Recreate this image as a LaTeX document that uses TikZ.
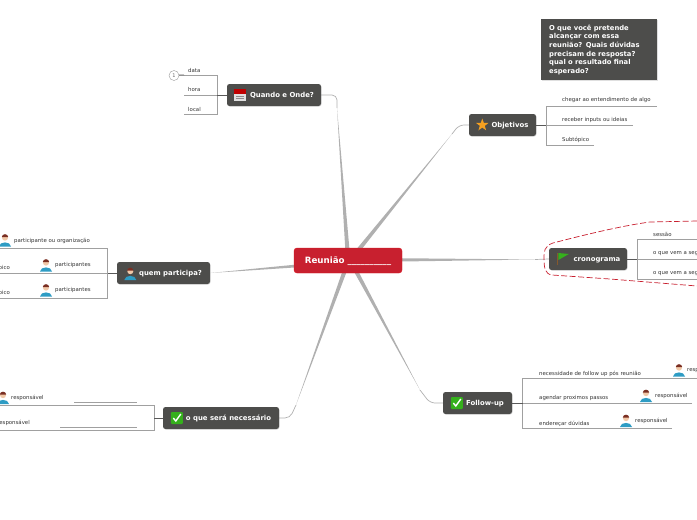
\documentclass[tikz,border=0pt]{standalone}
\usepackage{fontspec}
\setmainfont{DejaVu Sans}
\usetikzlibrary{calc,shadows,backgrounds}

\definecolor{topicgray}{HTML}{4D4D4B}
\definecolor{rootred}{HTML}{C8202F}
\definecolor{branchgray}{HTML}{B0B0B0}
\definecolor{railgray}{HTML}{A0A0A0}
\definecolor{skintone}{HTML}{F0C8A8}
\definecolor{hairbrown}{HTML}{7A2E22}
\definecolor{shirtblue}{HTML}{2E9CC4}
\definecolor{checkgreen}{HTML}{35B01C}
\definecolor{starorange}{HTML}{F5A020}

% tapered branch out of the root
\newcommand{\branchwedge}[2]{\fill[branchgray] ($(#1)!2.2pt!90:(#2)$) -- ($(#1)!2.2pt!-90:(#2)$) -- (#2) -- cycle;}

\tikzset{
	topic/.style={fill=topicgray, rounded corners=2.5pt, text=white, minimum height=22pt, inner sep=0pt, text height=5pt, text depth=0pt,
		font=\fontsize{6.9}{8}\selectfont\bfseries, drop shadow={opacity=.25,shadow xshift=.6pt,shadow yshift=-.6pt}},
	leaf/.style={anchor=west, inner sep=0pt, text=black!80, font=\fontsize{5.4}{6}\selectfont},
	rail/.style={railgray, line width=.8pt},
	stem/.style={black!65, line width=1pt},
	twig/.style={branchgray, line width=.7pt, rounded corners=5pt},
	personicon/.pic={
		\fill[shirtblue] (-6,7) .. controls (-5.5,1.5) and (5.5,1.5) .. (6,7) -- cycle;
		\fill[skintone] (0,-1.8) circle (3);
		\fill[hairbrown] (-3.2,-2.5) .. controls (-3,-6.2) and (3,-6.2) .. (3.2,-2.5) -- cycle;
	},
	checkicon/.pic={
		\fill[checkgreen, rounded corners=1pt] (-6,-6) rectangle (6,6);
		\draw[white, line width=1.4pt] (-3.5,0) -- (-1,3) -- (4,-4);
	},
	staricon/.pic={
		\fill[starorange] (90:-6.5) -- (126:-2.6) -- (162:-6.5) -- (198:-2.6) -- (234:-6.5)
			-- (270:-2.6) -- (306:-6.5) -- (342:-2.6) -- (18:-6.5) -- (54:-2.6) -- cycle;
	},
	flagicon/.pic={
		\draw[brown!70!black, line width=1pt] (-5,-6) -- (-5,6);
		\fill[checkgreen] (-4.5,-6) -- (6,-5) -- (-4.5,1) -- cycle;
	},
	calendaricon/.pic={
		\fill[black!12] (-6,-5) rectangle (6,6);
		\fill[red!75!black] (-6,-6) rectangle (6,-1.5);
		\draw[black!45, line width=.4pt] (-4,1) -- (4,1) (-4,3) -- (4,3);
	}
}

\begin{document}
\begin{tikzpicture}[x=1pt,y=-1pt]
	\useasboundingbox (0,0) rectangle (697,520);
	
	% --------------------------
	% Root and main topics
	% --------------------------
	\node[fill=rootred, draw=red!35!rootred, rounded corners=3pt, text=white, minimum width=108pt, minimum height=25pt, inner sep=0pt, text height=6pt, text depth=0pt,
		font=\fontsize{8.7}{10}\selectfont\bfseries] (root) at (348,260.5) {Reunião \_\_\_\_\_\_\_\_\_\_};
	
	\node[topic, minimum width=94pt] (quando) at (274,95) {\hspace*{16pt}Quando e Onde?};
	\node[topic, minimum width=67pt] (objetivos) at (502.5,125) {\hspace*{15pt}Objetivos};
	\node[topic, minimum width=78pt] (cronograma) at (588,259) {\hspace*{18pt}cronograma};
	\node[topic, minimum width=69pt] (followup) at (477.5,403) {\hspace*{15pt}Follow-up};
	\node[topic, minimum width=116pt] (necessario) at (221,418) {\hspace*{15pt}o que será necessário};
	\node[topic, minimum width=93pt] (participa) at (163.5,273) {\hspace*{14pt}quem participa?};
	
	\pic at ([xshift=13.5pt]quando.west) {calendaricon};
	\pic at ([xshift=13.5pt]objetivos.west) {staricon};
	\pic at ([xshift=14pt]cronograma.west) {flagicon};
	\pic at ([xshift=14pt]followup.west) {checkicon};
	\pic at ([xshift=14pt]necessario.west) {checkicon};
	\pic at ([xshift=13.5pt]participa.west) {personicon};
	
	% note above Objetivos
	\node[fill=topicgray, text=white, anchor=north west, inner xsep=8pt, inner ysep=4pt, text width=100pt, minimum height=61pt, align=left,
		font=\fontsize{6.8}{8.6}\selectfont\bfseries, drop shadow={opacity=.25,shadow xshift=.6pt,shadow yshift=-.6pt}] (note) at (541,19)
		{O que você pretende\\alcançar com essa\\reunião? Quais dúvidas\\precisam de resposta?\\qual o resultado final\\esperado?};
	
	% --------------------------
	% Branches from the root
	% --------------------------
	\coordinate (qbend) at (337,108);
	\coordinate (qend) at (337,95);
	\coordinate (obend) at (452,134);
	\coordinate (oend) at (459,125);
	\coordinate (cbend) at (535,259.5);
	\coordinate (fbend) at (420,390);
	\coordinate (fend) at (430,403);
	\coordinate (nbend) at (296,405);
	\coordinate (nend) at (290,418);
	\begin{scope}[on background layer]
		\branchwedge{348,258}{qbend}
		\branchwedge{352,258}{obend}
		\branchwedge{355,260}{cbend}
		\branchwedge{350,260}{fbend}
		\branchwedge{348,262}{nbend}
		\branchwedge{345,262}{participa.east}
		\draw[twig] (qbend) -- (qend) -- (quando.east);
		\draw[twig] (obend) -- (oend) -- (objetivos.west);
		\draw[twig] (cbend) -- (cronograma.west);
		\draw[twig] (fbend) -- (fend) -- (followup.west);
		\draw[twig] (nbend) -- (nend) -- (necessario.east);
	\end{scope}
	
	% callout round cronograma
	\draw[rootred, dashed, line width=.7pt, dash pattern=on 6pt off 2.5pt] (697,221) -- (650,222)
		.. controls (620,226) and (580,236) .. (553,243)
		.. controls (544,246) and (544,252) .. (544,258)
		.. controls (544,268) and (545,274) .. (552,275)
		-- (610,279) -- (697,286);
	
	% --------------------------
	% Quando e Onde?
	% --------------------------
	\coordinate (qbar) at (217,95);
	\coordinate (q1) at (184,75);
	\coordinate (q2) at (184,95);
	\coordinate (q3) at (184,114);
	\foreach \n in {1,2,3} {
		\draw[rail] (q\n) -| (qbar);
	}
	\draw[stem] (qbar) -- (quando);
	\node[leaf] (qdata) at (188,70.5) {data};
	\node[leaf] (qhora) at (188,89.5) {hora};
	\node[leaf] (qlocal) at (188,109) {local};
	\node[draw=black!40, circle, minimum size=10pt, inner sep=0pt, text=black!60, font=\fontsize{5}{6}\selectfont] (qcount) at (174,75.5) {1};
	\draw[stem] (qcount) -- (q1);
	
	% --------------------------
	% Objetivos
	% --------------------------
	\coordinate (obar) at (546,125);
	\coordinate (o1) at (657,106);
	\coordinate (o2) at (633,125);
	\coordinate (o3) at (594,145);
	\foreach \n in {1,2,3} {
		\draw[rail] (o\n) -| (obar);
	}
	\draw[stem] (obar) -- (objetivos);
	\node[leaf] (ochegar) at (562,100.5) {chegar ao entendimento de algo};
	\node[leaf] (oinputs) at (562,120.5) {receber inputs ou ideias};
	\node[leaf] (osub) at (562,139.5) {Subtópico};
	
	% --------------------------
	% cronograma
	% --------------------------
	\coordinate (cbar) at (637,259);
	\coordinate (c1) at (697,239);
	\coordinate (c2) at (697,259);
	\coordinate (c3) at (697,279);
	\foreach \n in {1,2,3} {
		\draw[rail] (c\n) -| (cbar);
	}
	\draw[stem] (cbar) -- (cronograma);
	\node[leaf] (csessao) at (653,234) {sessão};
	\node[leaf] (cseguir) at (653,253.5) {o que vem a seguir};
	\node[leaf] (cseguirb) at (653,273.5) {o que vem a seguir};
	
	% --------------------------
	% Follow-up
	% --------------------------
	\coordinate (fbar) at (522.5,403);
	\coordinate (f1) at (697,378);
	\coordinate (f2) at (692,403);
	\coordinate (f3) at (672,428);
	\foreach \n in {1,2,3} {
		\draw[rail] (f\n) -| (fbar);
	}
	\draw[stem] (fbar) -- (followup);
	\node[leaf] (fnecess) at (539,373.5) {necessidade de follow up pós reunião};
	\node[leaf] (fagendar) at (539,398.5) {agendar proximos passos};
	\node[leaf] (fendere) at (539,423.5) {endereçar dúvidas};
	\pic at (679,369.5) {personicon};
	\node[leaf] (fresp) at (687,369.5) {responsável};
	\pic at (646,395) {personicon};
	\node[leaf] (frespb) at (655,395.5) {responsável};
	\pic at (626,420) {personicon};
	\node[leaf] (frespc) at (635,420.5) {responsável};
	
	% --------------------------
	% o que será necessário
	% --------------------------
	\coordinate (nbar) at (154,418);
	\coordinate (n1) at (0,405);
	\coordinate (n2) at (0,430);
	\foreach \n in {1,2} {
		\draw[rail] (n\n) -| (nbar);
	}
	\draw[stem] (nbar) -- (necessario);
	\draw[rail] (74,402) -- (137,402);
	\draw[rail] (60,427) -- (137,427);
	\pic at (3,397) {personicon};
	\node[leaf] (nresp) at (11,397.5) {responsável};
	\node[leaf, anchor=east] (nrespb) at (30,422.5) {responsável};
	
	% --------------------------
	% quem participa?
	% --------------------------
	\coordinate (pbar) at (107.5,273);
	\coordinate (p1) at (0,248);
	\coordinate (p2) at (0,273);
	\coordinate (p3) at (0,298);
	\foreach \n in {1,2,3} {
		\draw[rail] (p\n) -| (pbar);
	}
	\draw[stem] (pbar) -- (participa);
	\pic at (5,239.5) {personicon};
	\node[leaf] (porg) at (14,240.5) {participante ou organização};
	\pic at (46,264.5) {personicon};
	\node[leaf] (ppart) at (55,265.5) {participantes};
	\node[leaf, anchor=east] (psub) at (10,267.5) {Subtópico};
	\pic at (46,289.5) {personicon};
	\node[leaf] (ppartb) at (55,290.5) {participantes};
	\node[leaf, anchor=east] (psubb) at (10,292.5) {Subtópico};
	
\end{tikzpicture}
\end{document}
